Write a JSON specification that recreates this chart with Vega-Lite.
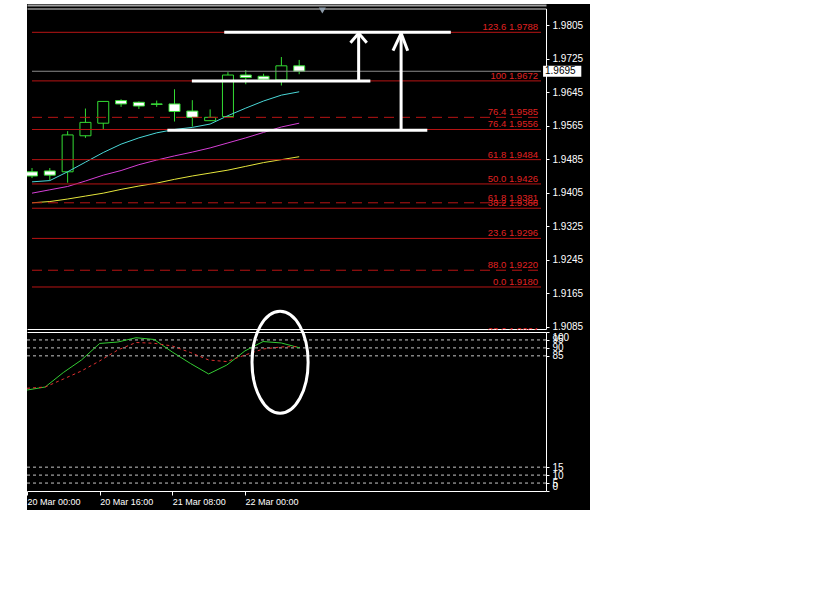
{
  "$schema": "https://vega.github.io/schema/vega-lite/v6.json",
  "background": "white",
  "padding": {"left": 25, "top": 4, "right": 0, "bottom": 0},
  "bounds": "flush",
  "spacing": 0,
  "config": {"view": {"stroke": null, "fill": "black"}, "axis": {"grid": false, "title": null}},
  "datasets": {
    "bars": [
      {"t": "2007-03-20T00:00:00Z", "open": 1.9455, "high": 1.9464, "low": 1.9440, "close": 1.9445, "fast": 1.9431, "mid": 1.9404, "slow": 1.9381, "main": 63.5, "signal": 64.6},
      {"t": "2007-03-20T04:00:00Z", "open": 1.9457, "high": 1.9464, "low": 1.9435, "close": 1.9447, "fast": 1.9434, "mid": 1.9412, "slow": 1.9384, "main": 65.4, "signal": 65.4},
      {"t": "2007-03-20T08:00:00Z", "open": 1.9455, "high": 1.9552, "low": 1.9429, "close": 1.9543, "fast": 1.9455, "mid": 1.9420, "slow": 1.9390, "main": 74.5, "signal": 70.4},
      {"t": "2007-03-20T12:00:00Z", "open": 1.9541, "high": 1.9606, "low": 1.9536, "close": 1.9573, "fast": 1.9478, "mid": 1.9433, "slow": 1.9397, "main": 82.4, "signal": 75.5},
      {"t": "2007-03-20T16:00:00Z", "open": 1.9571, "high": 1.9624, "low": 1.9557, "close": 1.9623, "fast": 1.9501, "mid": 1.9447, "slow": 1.9404, "main": 92.8, "signal": 81.8},
      {"t": "2007-03-20T20:00:00Z", "open": 1.9625, "high": 1.9628, "low": 1.9610, "close": 1.9617, "fast": 1.9521, "mid": 1.9458, "slow": 1.9413, "main": 93.7, "signal": 88.7},
      {"t": "2007-03-21T00:00:00Z", "open": 1.9621, "high": 1.9623, "low": 1.9605, "close": 1.9612, "fast": 1.9536, "mid": 1.9472, "slow": 1.9421, "main": 96.4, "signal": 93.4},
      {"t": "2007-03-21T04:00:00Z", "open": 1.9617, "high": 1.9625, "low": 1.9610, "close": 1.9616, "fast": 1.9548, "mid": 1.9483, "slow": 1.9428, "main": 95.3, "signal": 92.9},
      {"t": "2007-03-21T08:00:00Z", "open": 1.9617, "high": 1.9652, "low": 1.9575, "close": 1.9599, "fast": 1.9556, "mid": 1.9493, "slow": 1.9437, "main": 87.4, "signal": 91.2},
      {"t": "2007-03-21T12:00:00Z", "open": 1.9600, "high": 1.9626, "low": 1.9563, "close": 1.9585, "fast": 1.9561, "mid": 1.9502, "slow": 1.9445, "main": 80.2, "signal": 87.1},
      {"t": "2007-03-21T16:00:00Z", "open": 1.9577, "high": 1.9604, "low": 1.9576, "close": 1.9585, "fast": 1.9569, "mid": 1.9512, "slow": 1.9452, "main": 73.6, "signal": 82.4},
      {"t": "2007-03-21T20:00:00Z", "open": 1.9587, "high": 1.9693, "low": 1.9586, "close": 1.9686, "fast": 1.9589, "mid": 1.9524, "slow": 1.9459, "main": 79.2, "signal": 81.4},
      {"t": "2007-03-22T00:00:00Z", "open": 1.9686, "high": 1.9698, "low": 1.9664, "close": 1.9680, "fast": 1.9607, "mid": 1.9536, "slow": 1.9468, "main": 88.1, "signal": 85.5},
      {"t": "2007-03-22T04:00:00Z", "open": 1.9683, "high": 1.9689, "low": 1.9675, "close": 1.9676, "fast": 1.9624, "mid": 1.9549, "slow": 1.9477, "main": 94.0, "signal": 89.3},
      {"t": "2007-03-22T08:00:00Z", "open": 1.9674, "high": 1.9729, "low": 1.9661, "close": 1.9708, "fast": 1.9638, "mid": 1.9562, "slow": 1.9484, "main": 93.1, "signal": 90.6},
      {"t": "2007-03-22T12:00:00Z", "open": 1.9708, "high": 1.9722, "low": 1.9688, "close": 1.9695, "fast": 1.9646, "mid": 1.9571, "slow": 1.9491, "main": 90.1, "signal": 90.9}
    ],
    "fib": [
      {"price": 1.9788, "label": "123.6    1.9788", "set": "main"},
      {"price": 1.9672, "label": "100    1.9672", "set": "main"},
      {"price": 1.9556, "label": "76.4    1.9556", "set": "main"},
      {"price": 1.9484, "label": "61.8    1.9484", "set": "main"},
      {"price": 1.9426, "label": "50.0    1.9426", "set": "main"},
      {"price": 1.9368, "label": "38.2    1.9368", "set": "main"},
      {"price": 1.9296, "label": "23.6    1.9296", "set": "main"},
      {"price": 1.9180, "label": "0.0    1.9180", "set": "main"},
      {"price": 1.9064, "label": "23.6    1.9064", "set": "main"},
      {"price": 1.9585, "label": "76.4    1.9585", "set": "alt"},
      {"price": 1.9381, "label": "61.8    1.9381", "set": "alt"},
      {"price": 1.9220, "label": "88.0    1.9220", "set": "alt"}
    ],
    "drawings": [
      {"t1": "2007-03-21T19:10:00Z", "p1": 1.9788, "t2": "2007-03-23T22:03:00Z", "p2": 1.9788},
      {"t1": "2007-03-21T11:54:00Z", "p1": 1.9672, "t2": "2007-03-23T03:59:00Z", "p2": 1.9672},
      {"t1": "2007-03-21T06:24:00Z", "p1": 1.9554, "t2": "2007-03-23T16:46:00Z", "p2": 1.9554},
      {"t1": "2007-03-23T01:21:00Z", "p1": 1.9672, "t2": "2007-03-23T01:21:00Z", "p2": 1.97856},
      {"t1": "2007-03-22T23:31:00Z", "p1": 1.97632, "t2": "2007-03-23T01:21:00Z", "p2": 1.97856},
      {"t1": "2007-03-23T03:11:00Z", "p1": 1.97632, "t2": "2007-03-23T01:21:00Z", "p2": 1.97856},
      {"t1": "2007-03-23T10:53:00Z", "p1": 1.9554, "t2": "2007-03-23T10:53:00Z", "p2": 1.97856},
      {"t1": "2007-03-23T09:04:00Z", "p1": 1.97441, "t2": "2007-03-23T10:53:00Z", "p2": 1.97856},
      {"t1": "2007-03-23T12:22:00Z", "p1": 1.97441, "t2": "2007-03-23T10:53:00Z", "p2": 1.97856}
    ],
    "last": [{"price": 1.9695}],
    "levels": [{"level": 95}, {"level": 90}, {"level": 85}, {"level": 15}, {"level": 10}, {"level": 5}],
    "ring": [{"t": "2007-03-22T07:44:00Z", "v": 81}]
  },
  "vconcat": [
    {
      "width": 563,
      "height": 326,
      "resolve": {"axis": {"x": "independent", "y": "independent"}},
      "layer": [
        {
          "data": {"name": "bars"},
          "mark": {"type": "rule", "color": "#33dd33", "strokeWidth": 1, "clip": true},
          "encoding": {
            "x": {"field": "t", "type": "temporal",
              "scale": {"type": "utc", "domain": [{"year": 2007, "month": 3, "date": 20, "hours": 0, "minutes": 0, "utc": true}, {"year": 2007, "month": 3, "date": 24, "hours": 18, "minutes": 18, "utc": true}], "range": [0, 519]},
              "axis": {"orient": "top", "offset": -4.5, "domainColor": "#d8d8d8", "domainWidth": 1, "ticks": false, "labels": false, "title": null}},
            "y": {"field": "low", "type": "quantitative",
              "scale": {"domain": [1.907972, 1.984482], "range": [325, 4.5], "zero": false, "nice": false},
              "axis": {"orient": "right", "offset": -44, "values": [1.9085, 1.9165, 1.9245, 1.9325, 1.9405, 1.9485, 1.9565, 1.9645, 1.9725, 1.9805], "format": ".4f", "domainColor": "white", "domainWidth": 1, "tickColor": "white", "tickSize": 3, "labelColor": "white", "labelFont": "Liberation Sans", "labelFontSize": 10, "labelPadding": 3, "labelOverlap": false, "labelBound": false, "labelFlush": false, "title": null}},
            "y2": {"field": "high"}
          }
        },
        {
          "data": {"name": "bars"},
          "mark": {"type": "bar", "width": 11, "stroke": "#33dd33", "strokeWidth": 1, "clip": true},
          "encoding": {
            "x": {"field": "t", "type": "temporal", "scale": {"type": "utc"},
              "axis": {"orient": "bottom", "offset": -1, "domainColor": "white", "domainWidth": 1, "ticks": false, "labels": false, "title": null}},
            "y": {"field": "open", "type": "quantitative", "axis": null},
            "y2": {"field": "close"},
            "fill": {"condition": {"test": "datum.open > datum.close", "value": "white"}, "value": "black"}
          }
        },
        {
          "data": {"name": "bars"},
          "mark": {"type": "line", "color": "#4ad8d8", "strokeWidth": 1, "clip": true},
          "encoding": {
            "x": {"field": "t", "type": "temporal", "scale": {"type": "utc"},
              "axis": {"orient": "top", "offset": -1, "domainColor": "#a0a0a0", "domainWidth": 2, "ticks": false, "labels": false, "title": null}},
            "y": {"field": "fast", "type": "quantitative", "axis": null}
          }
        },
        {
          "data": {"name": "bars"},
          "mark": {"type": "line", "color": "#d63fd6", "strokeWidth": 1, "clip": true},
          "encoding": {
            "x": {"field": "t", "type": "temporal", "scale": {"type": "utc"}, "axis": null},
            "y": {"field": "mid", "type": "quantitative", "axis": null}
          }
        },
        {
          "data": {"name": "bars"},
          "mark": {"type": "line", "color": "#e6e63c", "strokeWidth": 1, "clip": true},
          "encoding": {
            "x": {"field": "t", "type": "temporal", "scale": {"type": "utc"}, "axis": null},
            "y": {"field": "slow", "type": "quantitative", "axis": null}
          }
        },
        {
          "data": {"name": "fib"},
          "mark": {"type": "rule", "color": "#b81414", "strokeWidth": 1, "clip": true},
          "encoding": {
            "x": {"datum": {"year": 2007, "month": 3, "date": 20, "hours": 0, "minutes": 0, "utc": true}, "type": "temporal", "scale": {"type": "utc"}, "axis": null},
            "x2": {"datum": {"year": 2007, "month": 3, "date": 24, "hours": 18, "minutes": 18, "utc": true}},
            "y": {"field": "price", "type": "quantitative", "axis": null},
            "strokeDash": {"field": "set", "type": "nominal", "scale": {"domain": ["main", "alt"], "range": [[1, 0], [10, 6]]}, "legend": null}
          }
        },
        {
          "data": {"name": "fib"},
          "mark": {"type": "text", "align": "right", "baseline": "alphabetic", "dx": -3, "dy": -2, "font": "Liberation Sans", "fontSize": 9.5, "color": "#e02222", "clip": true},
          "encoding": {
            "x": {"datum": {"year": 2007, "month": 3, "date": 24, "hours": 18, "minutes": 18, "utc": true}, "type": "temporal", "scale": {"type": "utc"}, "axis": null},
            "y": {"field": "price", "type": "quantitative", "axis": null},
            "text": {"field": "label"}
          }
        },
        {
          "data": {"name": "last"},
          "mark": {"type": "rule", "color": "#8a8a8a", "strokeWidth": 1},
          "encoding": {
            "x": {"datum": {"year": 2007, "month": 3, "date": 20, "hours": 0, "minutes": 0, "utc": true}, "type": "temporal", "scale": {"type": "utc"}, "axis": null},
            "x2": {"datum": {"year": 2007, "month": 3, "date": 24, "hours": 18, "minutes": 18, "utc": true}},
            "y": {"field": "price", "type": "quantitative", "axis": null}
          }
        },
        {
          "data": {"name": "drawings"},
          "mark": {"type": "rule", "color": "white", "strokeWidth": 3, "strokeCap": "butt"},
          "encoding": {
            "x": {"field": "t1", "type": "temporal", "scale": {"type": "utc"}, "axis": null},
            "x2": {"field": "t2"},
            "y": {"field": "p1", "type": "quantitative", "axis": null},
            "y2": {"field": "p2"}
          }
        },
        {
          "data": {"name": "last"},
          "mark": {"type": "rect", "color": "white"},
          "encoding": {
            "x": {"datum": {"year": 2007, "month": 3, "date": 24, "hours": 18, "minutes": 46, "utc": true}, "type": "temporal", "scale": {"type": "utc"}, "axis": null},
            "x2": {"datum": {"year": 2007, "month": 3, "date": 25, "hours": 3, "minutes": 21, "utc": true}},
            "y": {"datum": 1.9708, "type": "quantitative", "axis": null},
            "y2": {"datum": 1.9682}
          }
        },
        {
          "data": {"name": "last"},
          "mark": {"type": "text", "align": "left", "baseline": "middle", "font": "Liberation Sans", "fontSize": 10, "color": "black"},
          "encoding": {
            "x": {"datum": {"year": 2007, "month": 3, "date": 24, "hours": 19, "minutes": 12, "utc": true}, "type": "temporal", "scale": {"type": "utc"}, "axis": null},
            "y": {"field": "price", "type": "quantitative", "axis": null},
            "text": {"field": "price", "type": "quantitative", "format": ".4f"}
          }
        },
        {
          "data": {"name": "last"},
          "mark": {"type": "point", "shape": "triangle-down", "filled": true, "color": "#8c9aa8", "size": 50, "opacity": 1},
          "encoding": {
            "x": {"datum": {"year": 2007, "month": 3, "date": 22, "hours": 17, "minutes": 12, "utc": true}, "type": "temporal", "scale": {"type": "utc"}, "axis": null},
            "y": {"datum": 1.9840, "type": "quantitative", "axis": null}
          }
        }
      ]
    },
    {
      "width": 563,
      "height": 180,
      "resolve": {"axis": {"x": "independent", "y": "independent"}},
      "layer": [
        {
          "data": {"name": "levels"},
          "mark": {"type": "rule", "color": "#c8c8c8", "strokeWidth": 1, "strokeDash": [3, 3]},
          "encoding": {
            "x": {"datum": {"year": 2007, "month": 3, "date": 20, "hours": 0, "minutes": 0, "utc": true}, "type": "temporal",
              "scale": {"type": "utc", "domain": [{"year": 2007, "month": 3, "date": 20, "hours": 0, "minutes": 0, "utc": true}, {"year": 2007, "month": 3, "date": 24, "hours": 18, "minutes": 18, "utc": true}], "range": [0, 519]},
              "axis": null},
            "x2": {"datum": {"year": 2007, "month": 3, "date": 24, "hours": 18, "minutes": 18, "utc": true}},
            "y": {"field": "level", "type": "quantitative",
              "scale": {"domain": [0, 100], "range": [161, 2], "zero": false, "nice": false},
              "axis": {"orient": "right", "offset": -44, "values": [0, 5, 10, 15, 85, 90, 95, 100], "format": "d", "domainColor": "white", "domainWidth": 1, "tickColor": "white", "tickSize": 3, "labelColor": "white", "labelFont": "Liberation Sans", "labelFontSize": 10, "labelPadding": 3, "labelOverlap": false, "labelBound": false, "labelFlush": true, "title": null}}
          }
        },
        {
          "data": {"name": "bars"},
          "mark": {"type": "line", "color": "#33cc33", "strokeWidth": 1},
          "encoding": {
            "x": {"field": "t", "type": "temporal", "scale": {"type": "utc"},
              "axis": {"orient": "bottom", "offset": -19, "values": [{"year": 2007, "month": 3, "date": 20, "hours": 0, "utc": true}, {"year": 2007, "month": 3, "date": 20, "hours": 16, "utc": true}, {"year": 2007, "month": 3, "date": 21, "hours": 8, "utc": true}, {"year": 2007, "month": 3, "date": 22, "hours": 0, "utc": true}], "format": "%d %b %H:%M", "domainColor": "white", "domainWidth": 1, "tickColor": "white", "tickSize": 4, "labelColor": "white", "labelFont": "Liberation Sans", "labelFontSize": 9, "labelAlign": "left", "labelBaseline": "top", "labelPadding": 2, "labelOverlap": false, "labelBound": false, "labelFlush": false, "title": null}},
            "y": {"field": "main", "type": "quantitative", "axis": null}
          }
        },
        {
          "data": {"name": "bars"},
          "mark": {"type": "line", "color": "#e03030", "strokeWidth": 1, "strokeDash": [3, 3]},
          "encoding": {
            "x": {"field": "t", "type": "temporal", "scale": {"type": "utc"},
              "axis": {"orient": "top", "offset": -2, "domainColor": "white", "domainWidth": 1, "ticks": false, "labels": false, "title": null}},
            "y": {"field": "signal", "type": "quantitative", "axis": null}
          }
        },
        {
          "data": {"name": "ring"},
          "mark": {"type": "point", "shape": "M-0.55,0A0.55,1,0,1,1,0.55,0A0.55,1,0,1,1,-0.55,0Z", "filled": false, "stroke": "white", "strokeWidth": 3, "size": 10404, "opacity": 1},
          "encoding": {
            "x": {"field": "t", "type": "temporal", "scale": {"type": "utc"}, "axis": null},
            "y": {"field": "v", "type": "quantitative", "axis": null}
          }
        }
      ]
    }
  ]
}
